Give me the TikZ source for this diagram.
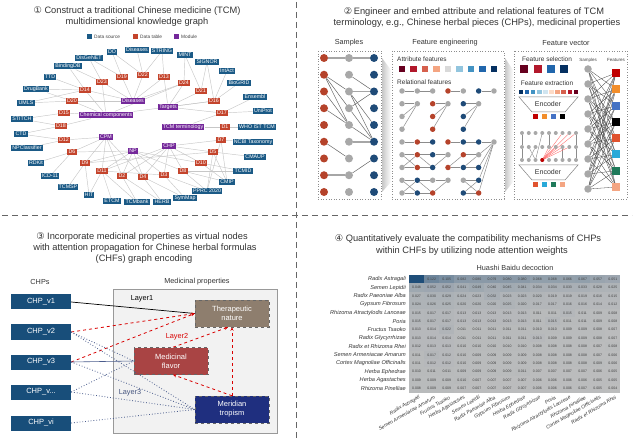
\documentclass[tikz,border=0pt]{standalone}
\usepackage{fontspec}
\setmainfont{Liberation Sans}
\newfontfamily\dvs{DejaVu Sans}
\usetikzlibrary{arrows.meta,calc}
\pgfdeclarelayer{bg}
\pgfsetlayers{bg,main}
\definecolor{dsblue}{HTML}{1B5A86}
\definecolor{dtred}{HTML}{C4442C}
\definecolor{modpur}{HTML}{74289A}
\definecolor{sred}{HTML}{B5432B}
\definecolor{sgray}{HTML}{A8A8A8}
\definecolor{sblue}{HTML}{1F4B78}
\definecolor{chpblue}{HTML}{184E7A}
\definecolor{tnbrown}{HTML}{8E7E6E}
\definecolor{mfred}{HTML}{A94444}
\definecolor{mtnavy}{HTML}{1F2F7F}
\definecolor{dotblue}{HTML}{4A5C8C}
\definecolor{hgray}{HTML}{BEBEBE}
\definecolor{hblue}{HTML}{1F4E79}
\definecolor{pa1}{HTML}{67001F}
\definecolor{pa2}{HTML}{B2182B}
\definecolor{pa3}{HTML}{D6604D}
\definecolor{pa4}{HTML}{F4A582}
\definecolor{pa5}{HTML}{D9D9D9}
\definecolor{pa6}{HTML}{92C5DE}
\definecolor{pa7}{HTML}{4393C3}
\definecolor{pa8}{HTML}{2166AC}
\definecolor{pa9}{HTML}{053061}
\definecolor{pa10}{HTML}{D1E5F0}
\definecolor{pa11}{HTML}{FDDBC7}
\definecolor{fq1}{HTML}{C00000}
\definecolor{fq2}{HTML}{F28E2B}
\definecolor{fq3}{HTML}{4472C4}
\definecolor{fq4}{HTML}{000000}
\definecolor{fq5}{HTML}{E0532F}
\definecolor{fq6}{HTML}{29A9D8}
\definecolor{fq7}{HTML}{1F7A5A}
\definecolor{fq8}{HTML}{F4A582}
\begin{document}
\begin{tikzpicture}[x=1pt,y=-1pt,
  title/.style={font=\fontsize{9.3}{11}\selectfont, text=black!80, inner sep=0},
  hdr/.style={font=\fontsize{7.3}{8}\selectfont, text=black!80, inner sep=0},
  kgn/.style={text=white,font=\fontsize{5.3}{6}\selectfont,inner xsep=1.2pt,inner ysep=1pt},
  ds/.style={kgn,fill=dsblue},
  dt/.style={kgn,fill=dtred},
  md/.style={kgn,fill=modpur},
  kg/.style={draw=black!22, line width=0.45},
  lg/.style={font=\fontsize{4.8}{5}\selectfont, text=black!75, inner sep=0, anchor=west},
  sdot/.style={circle,inner sep=0,minimum size=8pt},
  mdot/.style={circle,inner sep=0,minimum size=5.5pt},
  gdot/.style={circle,inner sep=0,minimum size=4pt,fill=sgray},
  sq/.style={inner sep=0,minimum size=#1},
  thickl/.style={draw=black!35,line width=1.6},
  thinl/.style={draw=black!60,line width=0.5},
  motl/.style={draw=black!45,line width=0.5},
  fbox/.style={draw=black!45,dotted,line width=0.6},
  chp/.style={fill=chpblue,text=white,minimum width=60pt,minimum height=15pt,inner sep=0,font=\fontsize{7.5}{8}\selectfont},
  prop/.style={text=white,minimum width=74pt,minimum height=27pt,inner sep=0,font=\fontsize{7.5}{9}\selectfont,align=center,draw=black!60,dashed,line width=0.5},
  reddash/.style={draw=red!85!black,dashed,line width=0.8,-{Stealth[length=3.5pt,width=3pt]}},
  bluedot/.style={draw=dotblue,dotted,line width=0.8},
  rowlab/.style={font=\fontsize{5.6}{6}\itshape\selectfont,text=black!80,anchor=east,inner sep=0},
  collab/.style={font=\fontsize{5}{6}\itshape\selectfont,text=black!80,anchor=east,inner sep=0,rotate=30},
  cellv/.style={font=\fontsize{3.5}{4}\selectfont,inner sep=0}
]
\useasboundingbox (0,0) rectangle (634,443);

% dividers
\draw[black!60,line width=0.9,dash pattern=on 6pt off 4pt] (296,2) -- (296,441);
\draw[black!60,line width=0.9,dash pattern=on 6pt off 4pt] (2,215) -- (632,215);

%================ PANEL 1 =================
\node[title] (t1a) at (137,11) {{\dvs ①} Construct a traditional Chinese medicine (TCM)};
\node[title] (t1b) at (137,22) {multidimensional knowledge graph};
\node[sq=5pt,fill=dsblue] (lg1) at (89,37) {};
\node[lg] (lg1t) at (94,37) {Data source};
\node[sq=5pt,fill=dtred] (lg2) at (135,37) {};
\node[lg] (lg2t) at (140,37) {Data table};
\node[sq=5pt,fill=modpur] (lg3) at (176,37) {};
\node[lg] (lg3t) at (181,37) {Module};

% data sources
\foreach \n/\x/\y/\t in {sDO/112/52/DO, sDis/137/50/Diseases, sSTRING/162/51/STRING, sMINT/185/55/MINT,
  sSIGNOR/207/62/SIGNOR, sIntAct/227/71/IntAct, sBioGRID/239/83/BioGRID, sEnsembl/255/97/Ensembl,
  sUniProt/263/111/UniProt, sWHO/257/127/WHO IST TCM, sNCBI/253/142/NCBI Taxonomy, sCMAUP/255/157/CMAUP,
  sTCMID/243/171/TCMID, sCMIP/227/182/CMIP, sPPRC/207/191/PPRC 2020, sSymMap/185/198/SymMap,
  sHERB/162/202/HERB, sTCMbank/137/202/TCMbank, sETCM/112/201/ETCM, sHIT/89/195/HIT,
  sTCMSP/68/187/TCMSP, sICD/50/176/ICD-11, sRDKit/36/163/RDKit, sNPC/27/148/NPClassifier,
  sCTD/21/134/CTD, sSTITCH/22/119/STITCH, sUMLS/26/103/UMLS, sDrugBank/36/89/DrugBank,
  sTTD/50/77/TTD, sBindingDB/68/66/BindingDB, sDisGeNET/89/58/DisGeNET}
  \node[ds] (\n) at (\x,\y) {\t};
% data tables
\foreach \n/\x/\y in {19/122/77, 22/143/75, 23/102/82, 14/85/90, 20/72/101, 15/64/113, 18/61/126,
  12/64/140, 6/72/152, 9/85/163, 11/102/171, 2/122/176, 4/143/177, 3/164/175, 8/183/171,
  10/201/163, 5/213/152, 7/221/140, 1/225/127, 17/222/113, 16/214/101, 21/201/91, 24/184/83, 13/164/77}
  \node[dt] (d\n) at (\x,\y) {D\n};
% modules
\node[md] (mDis) at (133,101) {Diseases};
\node[md] (mChem) at (106,115) {Chemical components};
\node[md] (mCPM) at (106,137) {CPM};
\node[md] (mNP) at (133,151) {NP};
\node[md] (mTar) at (168,107) {Targets};
\node[md] (mTCM) at (183,127) {TCM terminology};
\node[md] (mCHP) at (169,146) {CHP};

\begin{pgfonlayer}{bg}
\foreach \a/\b in {d19/sDO, d19/sDisGeNET, d19/mDis, d22/sDis, d22/sSTRING, d22/mDis, d22/sDO,
  d23/sDisGeNET, d23/sBindingDB, d23/mDis, d23/mChem, d14/sBindingDB, d14/sTTD, d14/sDrugBank,
  d14/mChem, d14/mDis, d14/sUMLS, d20/sUMLS, d20/sDrugBank, d20/mDis, d20/mChem, d15/sSTITCH,
  d15/mChem, d18/sCTD, d18/mChem, d18/sSTITCH, d12/sNPC, d12/sCTD, d12/mCPM, d6/sRDKit, d6/sICD,
  d6/mNP, d6/mCPM, d9/sTCMSP, d9/sHIT, d9/mCPM, d9/mNP, d11/sETCM, d11/sTCMbank, d11/sHIT, d11/mNP,
  d11/mCPM, d2/sTCMbank, d2/sHERB, d2/mNP, d2/mCHP, d4/sHERB, d4/sSymMap, d4/mCHP, d4/mNP,
  d3/sSymMap, d3/sPPRC, d3/mCHP, d3/mNP, d8/sPPRC, d8/sCMIP, d8/sTCMID, d8/mCHP, d10/sTCMID,
  d10/sCMIP, d10/mCHP, d5/sCMAUP, d5/sCMIP, d5/sPPRC, d5/mCHP, d7/sNCBI, d7/sCMIP, d7/mCHP,
  d7/sPPRC, d1/sWHO, d1/mTCM, d17/sUniProt, d17/sEnsembl, d17/mTar, d17/mTCM, d16/sBioGRID,
  d16/sIntAct, d16/sSIGNOR, d16/mTar, d21/sSIGNOR, d21/sMINT, d21/mTar, d24/sMINT, d24/mTar,
  d24/mChem, d13/sSTRING, d13/mTar, d13/mDis, mChem/d16, mDis/d24, mNP/d8, mNP/d10, mCPM/d4,
  mCHP/d11, d9/d5, d11/d3, mCPM/d2}
  \draw[kg] (\a) -- (\b);
\end{pgfonlayer}

%================ PANEL 2 =================
\node[title] (t2a) at (474,12) {{\dvs ②}\,Engineer and embed attribute and relational features of TCM};
\node[title] (t2b) at (477,23) {terminology, e.g., Chinese herbal pieces (CHPs), medicinal properties};
\node[hdr] (h2a) at (349,43) {Samples};
\node[hdr] (h2b) at (445,43) {Feature engineering};
\node[hdr] (h2c) at (566,43) {Feature vector};

\draw[fbox] (318,51) rectangle (381,199);
\draw[fbox] (392,51) rectangle (504,199);
\draw[fbox] (514,51) rectangle (627,199);
\shade[left color=black!22,right color=white] (382,58) -- (391,70) -- (391,182) -- (382,192) -- cycle;
\shade[left color=black!22,right color=white] (505,58) -- (513,70) -- (513,182) -- (505,192) -- cycle;

% samples
\foreach \i in {1,...,9}{
  \node[sdot,fill=sred] (sr\i) at (324,{58+16.75*(\i-1)}) {};
  \node[sdot,fill=sgray] (sg\i) at (349,{58+16.75*(\i-1)}) {};
  \node[sdot,fill=sblue] (sb\i) at (374,{58+16.75*(\i-1)}) {};
}
\begin{pgfonlayer}{bg}
\foreach \a/\b in {sr1/sg1, sg1/sb1, sg3/sb3, sg6/sb6, sr8/sg8} \draw[thickl] (\a) -- (\b);
\foreach \a/\b in {sr2/sg3, sr2/sg4, sr2/sg5, sr3/sg5, sr4/sg5, sr6/sg7, sg3/sb5, sg3/sb6,
  sg4/sb6, sg5/sb6, sg4/sb3, sg8/sb7, sg2/sb3} \draw[thinl] (\a) -- (\b);
\end{pgfonlayer}

% feature engineering
\node[font=\fontsize{6.5}{7}\selectfont,text=black!80,anchor=west,inner sep=0] (af) at (397,59) {Attribute features};
\foreach \k in {1,...,9} \node[sq=6.5pt,fill=pa\k] (at\k) at ({402+11.5*(\k-1)},69) {};
\node[font=\fontsize{6.5}{7}\selectfont,text=black!80,anchor=west,inner sep=0] (rf) at (397,82) {Relational features};
\foreach \c/\r/\k in {1/1/sgray,2/1/sgray,3/1/sgray,4/1/sred,5/1/sgray,6/1/sblue,7/1/sgray,
  1/2/sgray,2/2/sgray,1/3/sgray,1/4/sgray,3/2/sred,4/2/sgray,3/3/sred,3/4/sred,5/2/sblue,6/2/sgray,5/3/sblue,5/4/sblue,
  1/5/sgray,2/5/sred,3/5/sblue,4/5/sred,5/5/sblue,6/5/sblue,7/5/sgray,
  1/6/sgray,2/6/sred,3/6/sblue,4/6/sgray,5/6/sred,6/6/sgray,
  1/7/sgray,2/7/sred,3/7/sblue,4/7/sred,5/7/sblue,6/7/sblue,
  1/8/sgray,2/8/sblue,3/8/sgray,4/8/sgray,5/8/sgray,6/8/sblue,
  1/9/sgray,2/9/sblue,3/9/sred,5/9/sblue,6/9/sred}
  \node[mdot,fill=\k] (m\c\r) at ({402+15.33*(\c-1)},{91+12.75*(\r-1)}) {};
\begin{pgfonlayer}{bg}
\foreach \a/\b in {11/21,21/31,41/51,61/71,12/22,22/13,22/14,32/42,42/33,42/34,52/62,62/53,62/54,
  15/25,25/35,16/26,16/27,17/26,17/27,26/36,27/37,26/37,36/46,37/46,
  18/28,18/29,19/28,19/29,28/38,29/39,28/39,38/48,39/48,
  45/55,55/65,65/75,56/66,66/75,47/57,57/67,67/75,58/68,68/75,59/69,69/75,47/56,57/66,58/69,59/68}
  \draw[motl] (m\a) -- (m\b);
\end{pgfonlayer}

% feature vector
\node[font=\fontsize{6.5}{7}\selectfont,text=black!80,inner sep=0] (fsel) at (547,59) {Feature selection};
\foreach \k/\x/\cc in {1/524/pa1,2/538/pa2,3/551/pa8,4/564/pa9}
  \node[sq=7.5pt,fill=\cc] (fs\k) at (\x,69) {};
\node[font=\fontsize{6.5}{7}\selectfont,text=black!80,inner sep=0] (fext) at (547,83) {Feature extraction};
\foreach \cc [count=\k] in {pa9,pa8,pa7,pa6,pa10,pa11,pa4,pa3,pa2,pa1}
  \node[sq=4.5pt,fill=\cc] (fe\k) at ({521+6.1*(\k-1)},92) {};
\draw[black!50,fill=white,line width=0.5] (519,97) -- (578,97) -- (565,112) -- (532,112) -- cycle;
\node[font=\fontsize{7}{8}\selectfont,text=black!80,inner sep=0] (enc1) at (548,104.5) {Encoder};
\foreach \cc [count=\k] in {fq1,fq2,fq3,fq4}
  \node[sq=5pt,fill=\cc] (eo\k) at ({535+9*(\k-1)},117) {};
\foreach \k in {0,...,8}{
  \foreach \r/\yy in {1/133,2/147,3/160}
    \node[gdot] (gd\k\r) at ({522+6.75*\k},\yy) {};
}
\node[circle,inner sep=0,minimum size=4pt,fill=fq1] (rdot) at (gd33) {};
\begin{pgfonlayer}{bg}
\foreach \a/\b in {gd01/gd02,gd02/gd03,gd81/gd82,gd82/gd83,gd41/gd42,gd22/gd13,gd23/gd31,gd62/gd63,gd12/gd23}
  \draw[black!45,line width=0.4] (\a) -- (\b);
\foreach \b in {gd61,gd71,gd81,gd52,gd62,gd72,gd42}
  \draw[red!60,line width=0.35] (rdot) -- (\b);
\end{pgfonlayer}
\draw[black!50,fill=white,line width=0.5] (519,165) -- (578,165) -- (565,180) -- (532,180) -- cycle;
\node[font=\fontsize{7}{8}\selectfont,text=black!80,inner sep=0] (enc2) at (548,172.5) {Encoder};
\foreach \cc [count=\k] in {fq5,fq6,fq7,fq8}
  \node[sq=5pt,fill=\cc] (ep\k) at ({535+9*(\k-1)},185) {};

\node[font=\fontsize{4.5}{5}\selectfont,text=black!75,inner sep=0] (fvs) at (588,60) {Samples};
\node[font=\fontsize{4.5}{5}\selectfont,text=black!75,inner sep=0] (fvf) at (616,60) {Features};
\foreach \i in {1,...,9} \node[circle,inner sep=0,minimum size=7.5pt,fill=sgray] (fv\i) at (588,{69+15*(\i-1)}) {};
\foreach \j in {1,...,8} \node[sq=8pt,fill=fq\j] (fq\j) at (616,{73+16.3*(\j-1)}) {};
\begin{pgfonlayer}{bg}
\foreach \i in {1,...,9}{
  \foreach \j in {1,...,8}{
    \pgfmathtruncatemacro\keep{mod(\i+2*\j,3)}
    \ifnum\keep>0 \draw[black!75,line width=0.3] (fv\i) -- (fq\j); \fi
  }
}
\end{pgfonlayer}

%================ PANEL 3 =================
\node[title] (t3a) at (142,237) {{\dvs ③} Incorporate medicinal properties as virtual nodes};
\node[title] (t3b) at (145,248) {with attention propagation for Chinese herbal formulas};
\node[title] (t3c) at (144,259) {(CHFs) graph encoding};
\node[hdr] (h3a) at (40,282) {CHPs};
\node[hdr] (h3b) at (197,282) {Medicinal properties};
\begin{pgfonlayer}{bg}
\draw[black!40,fill=black!5,line width=0.6] (113,289) rectangle (277,433);
\end{pgfonlayer}
\node[chp] (v1) at (41,302) {CHP\_v1};
\node[chp] (v2) at (41,332) {CHP\_v2};
\node[chp] (v3) at (41,362) {CHP\_v3};
\node[chp] (v4) at (41,392) {CHP\_v...};
\node[chp] (v5) at (41,423) {CHP\_vi};
\node[prop,fill=tnbrown] (tn) at (232,313.5) {Therapeutic\\nature};
\node[prop,fill=mfred] (mf) at (171,361) {Medicinal\\flavor};
\node[prop,fill=mtnavy] (mt) at (232,409.5) {Meridian\\tropism};
\node[font=\fontsize{7.3}{8}\selectfont,inner sep=0] (l1) at (142,299) {Layer1};
\node[font=\fontsize{7.3}{8}\selectfont,inner sep=0,text=red!85!black] (l2) at (177,337) {Layer2};
\node[font=\fontsize{7.3}{8}\selectfont,inner sep=0,text=dotblue!90!black] (l3) at (130,393) {Layer3};
\draw[black,line width=0.7] (v1.east) -- (tn.west);
\draw[reddash] (v2.east) -- (tn.west);
\draw[reddash] (v3.east) -- (tn.west);
\draw[reddash] ($(mf.north)+(2,0)$) -- ($(tn.south)+(-4,0)$);
\draw[reddash] (mt.north) -- (tn.south);
\draw[reddash] (mt.north) -- ($(mf.south)+(2,0)$);
\draw[bluedot] (v2.east) -- (mf.west);
\draw[dotblue,line width=0.6] (v3.east) -- (mf.west);
\draw[bluedot] (v4.east) -- (mf.west);
\draw[bluedot] (v2.east) -- (mt.west);
\draw[bluedot] (v3.east) -- (mt.west);
\draw[bluedot] (v4.east) -- (mt.west);
\draw[bluedot] (v5.east) -- (mt.west);

%================ PANEL 4 =================
\node[title] (t4a) at (468,239) {{\dvs ④} Quantitatively evaluate the compatibility mechanisms of CHPs};
\node[title] (t4b) at (472,251) {within CHFs by utilizing node attention weights};
\node[font=\fontsize{7.3}{8}\selectfont,text=black!80,inner sep=0] (hbd) at (515,268) {Huashi Baidu decoction};
\foreach \rv [count=\i] in {
 {0.400,0.122,0.105,0.082,0.080,0.079,0.080,0.080,0.068,0.068,0.066,0.067,0.057,0.051},
 {0.048,0.052,0.052,0.041,0.049,0.040,0.045,0.041,0.034,0.034,0.033,0.033,0.028,0.025},
 {0.027,0.030,0.029,0.024,0.023,0.032,0.023,0.023,0.020,0.019,0.019,0.019,0.016,0.015},
 {0.024,0.026,0.025,0.020,0.020,0.020,0.025,0.020,0.017,0.017,0.016,0.016,0.014,0.012},
 {0.015,0.017,0.017,0.013,0.013,0.013,0.013,0.013,0.011,0.011,0.015,0.011,0.009,0.008},
 {0.015,0.017,0.017,0.013,0.013,0.013,0.013,0.013,0.011,0.015,0.011,0.011,0.009,0.008},
 {0.013,0.014,0.022,0.011,0.011,0.011,0.011,0.011,0.010,0.010,0.009,0.009,0.008,0.007},
 {0.013,0.014,0.014,0.011,0.011,0.011,0.011,0.011,0.013,0.009,0.009,0.009,0.008,0.007},
 {0.012,0.013,0.013,0.010,0.010,0.010,0.010,0.010,0.008,0.008,0.008,0.008,0.007,0.008},
 {0.011,0.017,0.012,0.010,0.009,0.009,0.009,0.009,0.008,0.008,0.008,0.008,0.007,0.006},
 {0.011,0.012,0.012,0.010,0.009,0.009,0.009,0.009,0.008,0.008,0.008,0.008,0.009,0.006},
 {0.010,0.011,0.011,0.009,0.009,0.009,0.009,0.011,0.007,0.007,0.007,0.007,0.006,0.005},
 {0.009,0.009,0.009,0.010,0.007,0.007,0.007,0.007,0.006,0.006,0.006,0.006,0.005,0.005},
 {0.008,0.009,0.009,0.007,0.007,0.007,0.007,0.007,0.006,0.006,0.006,0.007,0.005,0.004}}{
  \foreach \v [count=\j] in \rv {
    \pgfmathtruncatemacro\p{min(100,\v*420)}
    \node[fill=hblue!\p!hgray,inner sep=0,minimum width=15.2pt,minimum height=8.5pt] (h-\i-\j)
      at ({409+15.1*(\j-0.5)},{275+8.4*(\i-0.5)}) {};
    \ifdim\v pt<0.2pt \node[cellv,text=black!75] (hv-\i-\j) at (h-\i-\j) {\v}; \fi
  }
}
\foreach \t [count=\i] in {Radix Astragali,Semen Lepidii,Radix Paeoniae Alba,Gypsum Fibrosum,
  Rhizoma Atractylodis Lanceae,Poria,Fructus Tsaoko,Radix Glycyrrhizae,Radix et Rhizoma Rhei,
  Semen Armeniacae Amarum,Cortex Magnoliae Officinalis,Herba Ephedrae,Herba Agastaches,Rhizoma Pinelliae}
  \node[rowlab] (rl\i) at (406,{275+8.4*(\i-0.5)}) {\t};
\foreach \t [count=\j] in {Radix Astragali,Semen Armeniacae Amarum,Fructus Tsaoko,Herba Agastaches,
  Semen Lepidii,Radix Paeoniae Alba,Gypsum Fibrosum,Herba Ephedrae,Radix Glycyrrhizae,Poria,
  Rhizoma Atractylodis Lanceae,Rhizoma Pinelliae,Cortex Magnoliae Officinalis,Radix et Rhizoma Rhei}
  \node[collab] (cl\j) at ({409+15.1*(\j-0.5)+3},397) {\t};
\end{tikzpicture}
\end{document}
